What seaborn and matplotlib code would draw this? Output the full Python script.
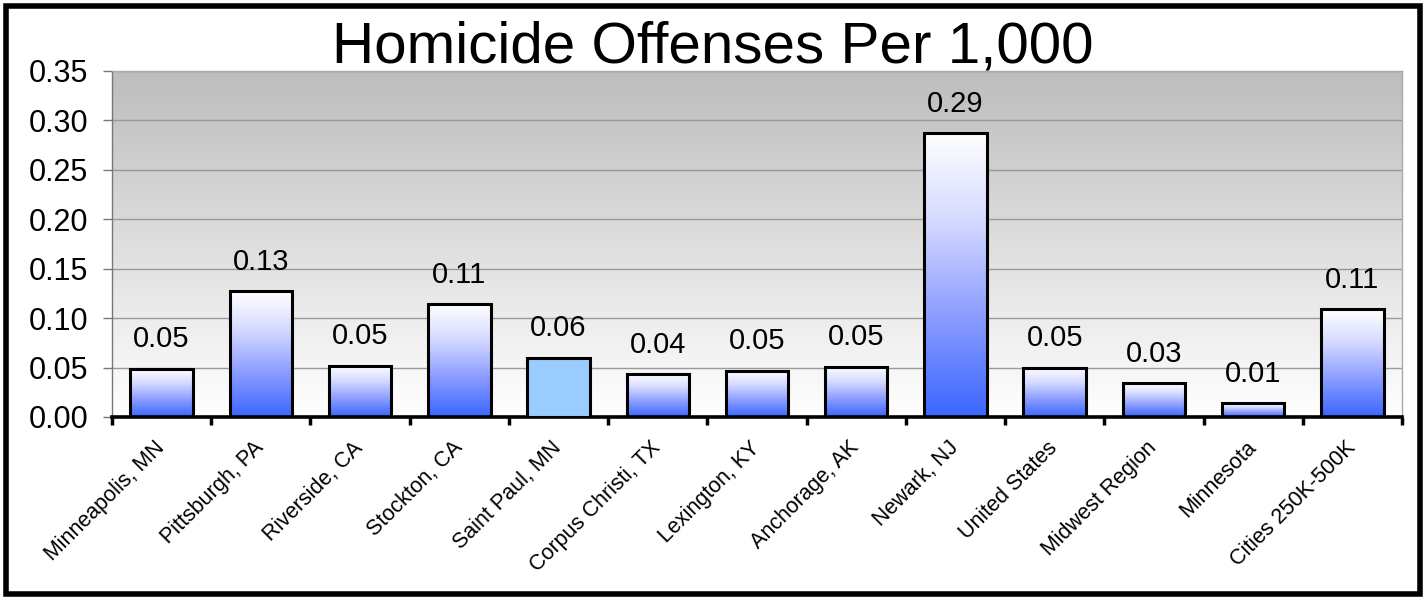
import numpy as np
import pandas as pd
import matplotlib
matplotlib.use("Agg")
import matplotlib.pyplot as plt
import matplotlib.transforms as mtransforms
import seaborn as sns
from matplotlib.colors import LinearSegmentedColormap
from matplotlib.patches import Rectangle

categories = ["Minneapolis, MN", "Pittsburgh, PA", "Riverside, CA", "Stockton, CA",
              "Saint Paul, MN", "Corpus Christi, TX", "Lexington, KY", "Anchorage, AK",
              "Newark, NJ", "United States", "Midwest Region", "Minnesota",
              "Cities 250K-500K"]
values = [0.049, 0.127, 0.052, 0.114, 0.060, 0.043, 0.047, 0.051, 0.287,
          0.050, 0.034, 0.014, 0.109]
highlight = "Saint Paul, MN"
y_ticks = [0.00, 0.05, 0.10, 0.15, 0.20, 0.25, 0.30, 0.35]
title = "Homicide Offenses Per 1,000"

sns.set_theme(style="white")
plt.rcParams['font.family'] = ['Liberation Sans', 'DejaVu Sans']
plt.rcParams['text.color'] = 'black'
plt.rcParams['xtick.color'] = 'black'
plt.rcParams['ytick.color'] = 'black'
plt.rcParams['axes.labelcolor'] = 'black'

W, H = 1426, 600
fig = plt.figure(figsize=(W / 100, H / 100), dpi=100)
fig.patch.set_facecolor("white")
ax = fig.add_axes([112 / W, 1 - 417 / H, 1290 / W, 346 / H])

df = pd.DataFrame({"cat": categories, "val": values})
sns.barplot(data=df, x="cat", y="val", ax=ax, width=0.63, color="white",
            saturation=1, edgecolor="black", linewidth=2.2, zorder=3)

bar_cmap = LinearSegmentedColormap.from_list(
    "bar", [(0.0, "#3a66ff"), (0.35, "#8a9cff"), (0.7, "#d6dbff"), (1.0, "#ffffff")])
bg_cmap = LinearSegmentedColormap.from_list("bg", ["#ffffff", "#bdbdbd"])
grad = np.linspace(1, 0, 256).reshape(-1, 1)

for p, cat in zip(ax.patches, categories):
    if cat == highlight:
        p.set_facecolor("#99ccff")
        continue
    p.set_facecolor("none")
    x0, x1 = p.get_x(), p.get_x() + p.get_width()
    y0, y1 = p.get_y(), p.get_y() + p.get_height()
    im = ax.imshow(grad, cmap=bar_cmap, vmin=0, vmax=1, extent=[x0, x1, y0, y1],
                   aspect="auto", zorder=2.5, interpolation="bilinear")
    im.set_clip_path(p)

ax.imshow(grad, cmap=bg_cmap, vmin=0, vmax=1, extent=[0, 1, 0, 1],
          transform=ax.transAxes, aspect="auto", zorder=0, interpolation="bilinear")

for p, v in zip(ax.patches, values):
    ax.annotate(f"{v:.2f}", (p.get_x() + p.get_width() / 2, p.get_height()),
                xytext=(0, 11), textcoords="offset points", ha="center",
                va="bottom", fontsize=21, color="black", zorder=4)

ax.set_xlim(-0.5, len(categories) - 0.5)
ax.set_ylim(0, 0.35)
ax.set_yticks(y_ticks)
ax.set_yticklabels([f"{t:.2f}" for t in y_ticks])
ax.yaxis.grid(True, color="#9a9a9a", lw=1)
ax.xaxis.grid(False)
ax.set_axisbelow(True)
for gl in ax.get_ygridlines():
    gl.set_zorder(1)

ax.set_xticks(np.arange(len(categories)))
ax.set_xticklabels(categories, rotation=45, ha="right", va="center",
                   rotation_mode="anchor", fontsize=15.5, color="black")
shift = mtransforms.ScaledTranslation(-8 / 100, 0, fig.dpi_scale_trans)
for lab in ax.get_xticklabels():
    lab.set_transform(lab.get_transform() + shift)
ax.set_xticks(np.arange(-0.5, len(categories), 1), minor=True)
ax.tick_params(axis="x", which="major", length=0, pad=20)
ax.tick_params(axis="x", which="minor", length=6, width=2.5, color="black",
               direction="out", bottom=True)
ax.tick_params(axis="y", length=6.5, width=1, color="#777777", labelsize=22,
               labelcolor="black", pad=10.5, left=True, direction="out")
ax.set_xlabel("")
ax.set_ylabel("")

ax.spines["bottom"].set_color("black")
ax.spines["bottom"].set_linewidth(2.6)
ax.spines["left"].set_color("#777777")
ax.spines["left"].set_linewidth(1)
for s in ("top", "right"):
    ax.spines[s].set_color("#aaaaaa")
    ax.spines[s].set_linewidth(1)

fig.text(0.5, 1 - 62 / H, title, ha="center", va="baseline", fontsize=42,
         color="black")

fig.patches.append(Rectangle((6 / W, 6 / H), 1 - 12 / W, 1 - 12 / H,
                             transform=fig.transFigure, fill=False, lw=4,
                             ec="black", zorder=10))

fig.savefig("out.png", dpi=100)
